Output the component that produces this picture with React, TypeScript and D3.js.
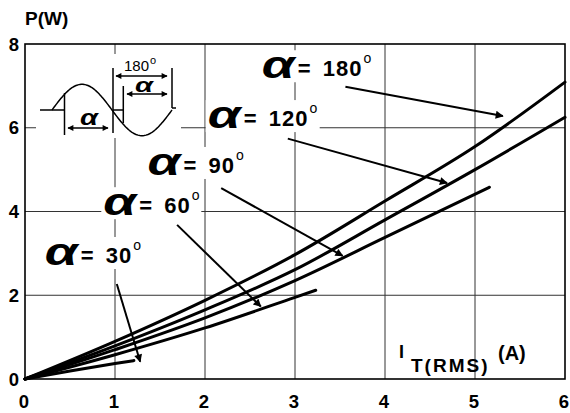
import { useEffect, useRef } from 'react';
import * as d3 from 'd3';

const W = 570, H = 413;
const margin = { top: 44, right: 5, bottom: 34, left: 25 };

const xTicks = [0, 1, 2, 3, 4, 5, 6];
const yTicks = [0, 2, 4, 6, 8];

// I_T(RMS) (A) / P (W)
const current180 = [0, 1, 2, 3, 4, 5, 6];
const power180 = [0, 0.9, 1.88, 2.97, 4.25, 5.55, 7.09];
const current120 = [0, 1, 2, 3, 4, 5, 6];
const power120 = [0, 0.79, 1.65, 2.61, 3.8, 5.0, 6.25];
const current90 = [0, 1, 2, 3, 4, 5.16];
const power90 = [0, 0.7, 1.46, 2.35, 3.38, 4.58];
const current60 = [0, 1, 2, 3, 3.23];
const power60 = [0, 0.58, 1.22, 1.95, 2.12];
const current30 = [0, 0.5, 1, 1.21];
const power30 = [0, 0.19, 0.37, 0.44];

const angles = ['180', '120', '90', '60', '30'];
// label anchor (data units) and arrow from/to (data units)
const labelI = [2.63, 2.03, 1.36, 0.87, 0.22];
const labelP = [7.23, 6.04, 4.92, 3.96, 2.77];
const arrowFromI = [3.56, 2.92, 2.18, 1.69, 1.02];
const arrowFromP = [6.98, 5.74, 4.56, 3.68, 2.27];
const arrowToI = [5.31, 4.69, 3.53, 2.62, 1.28];
const arrowToP = [6.28, 4.68, 2.94, 1.73, 0.41];

const series = [
  { I: current180, P: power180 },
  { I: current120, P: power120 },
  { I: current90, P: power90 },
  { I: current60, P: power60 },
  { I: current30, P: power30 },
];

const FONT = 'Liberation Sans, Arial, sans-serif';

function App() {
  const node = useRef<SVGSVGElement>(null);

  useEffect(() => {
    if (!node.current) return;
    const svg = d3.select(node.current);
    svg.selectAll('*').remove();

    const x = d3.scaleLinear().domain([0, 6]).range([margin.left, W - margin.right]);
    const y = d3.scaleLinear().domain([0, 8]).range([H - margin.bottom, margin.top]);

    const defs = svg.append('defs');
    defs.append('marker')
      .attr('id', 'head').attr('markerUnits', 'userSpaceOnUse')
      .attr('viewBox', '0 0 10 10').attr('refX', 9).attr('refY', 5)
      .attr('markerWidth', 9).attr('markerHeight', 8).attr('orient', 'auto-start-reverse')
      .append('path').attr('d', 'M0,0L10,5L0,10Z').attr('fill', '#000');
    defs.append('marker')
      .attr('id', 'small').attr('markerUnits', 'userSpaceOnUse')
      .attr('viewBox', '0 0 10 10').attr('refX', 9).attr('refY', 5)
      .attr('markerWidth', 7).attr('markerHeight', 6).attr('orient', 'auto-start-reverse')
      .append('path').attr('d', 'M0,0L10,5L0,10Z').attr('fill', '#000');

    // grid
    const grid = svg.append('g').attr('stroke', '#333').attr('stroke-width', 1);
    grid.selectAll('.vx').data(xTicks.slice(1, -1)).enter().append('line')
      .attr('x1', d => x(d)).attr('x2', d => x(d)).attr('y1', y(0)).attr('y2', y(8));
    grid.selectAll('.hy').data(yTicks.slice(1, -1)).enter().append('line')
      .attr('y1', d => y(d)).attr('y2', d => y(d)).attr('x1', x(0)).attr('x2', x(6));

    // white boxes behind labels
    angles.forEach((a, i) => {
      const lx = x(labelI[i]), ly = y(labelP[i]);
      const wText = 60 + a.length * 14 + 12;
      svg.append('rect').attr('x', lx - 2).attr('y', ly - 26)
        .attr('width', wText).attr('height', 32).attr('fill', '#fff');
    });

    // inset background
    svg.append('rect').attr('x', 36).attr('y', 54).attr('width', 145).attr('height', 84).attr('fill', '#fff');

    // frame
    svg.append('rect').attr('x', x(0)).attr('y', y(8))
      .attr('width', x(6) - x(0)).attr('height', y(0) - y(8))
      .attr('fill', 'none').attr('stroke', '#000').attr('stroke-width', 1.6);

    // ticks labels
    svg.append('g').selectAll('text').data(xTicks).enter().append('text')
      .attr('x', d => x(d) - 1).attr('y', 408).attr('text-anchor', 'middle')
      .attr('font-family', FONT).attr('font-weight', 'bold').attr('font-size', 18.5)
      .text(d => d);
    svg.append('g').selectAll('text').data(yTicks).enter().append('text')
      .attr('x', 19).attr('y', d => y(d) + 6.5).attr('text-anchor', 'end')
      .attr('font-family', FONT).attr('font-weight', 'bold').attr('font-size', 18.5)
      .text(d => d);

    svg.append('text').attr('x', 25).attr('y', 25)
      .attr('font-family', FONT).attr('font-weight', 'bold').attr('font-size', 19).text('P(W)');

    const xt = svg.append('text').attr('font-family', FONT).attr('font-weight', 'bold');
    xt.append('tspan').attr('x', 399).attr('y', 358).attr('font-size', 18).text('I');
    xt.append('tspan').attr('x', 411).attr('y', 372).attr('font-size', 19)
      .attr('letter-spacing', 2).text('T(RMS)');
    xt.append('tspan').attr('x', 498).attr('y', 360).attr('font-size', 20)
      .attr('letter-spacing', 0).text('(A)');

    // curves
    const line = d3.line<[number, number]>().x(d => x(d[0])).y(d => y(d[1])).curve(d3.curveMonotoneX);
    svg.append('g').selectAll('path').data(series).enter().append('path')
      .attr('d', s => line(s.I.map((v, k) => [v, s.P[k]] as [number, number])))
      .attr('fill', 'none').attr('stroke', '#000').attr('stroke-width', 3).attr('stroke-linecap', 'round');

    // arrows
    angles.forEach((_, i) => {
      svg.append('line')
        .attr('x1', x(arrowFromI[i])).attr('y1', y(arrowFromP[i]))
        .attr('x2', x(arrowToI[i])).attr('y2', y(arrowToP[i]))
        .attr('stroke', '#000').attr('stroke-width', 2).attr('marker-end', 'url(#head)');
    });

    // labels
    angles.forEach((a, i) => {
      const lx = x(labelI[i]), ly = y(labelP[i]);
      svg.append('text').attr('x', lx).attr('y', ly + 2)
        .attr('font-family', FONT).attr('font-weight', 'bold').attr('font-style', 'italic')
        .attr('font-size', 38).attr('textLength', 33).attr('lengthAdjust', 'spacingAndGlyphs')
        .text('α');
      svg.append('text').attr('x', lx + 36).attr('y', ly)
        .attr('font-family', FONT).attr('font-weight', 'bold').attr('font-size', 22).text('=');
      const dg = svg.append('text').attr('x', lx + 61).attr('y', ly)
        .attr('font-family', FONT).attr('font-weight', 'bold').attr('font-size', 22)
        .attr('letter-spacing', 1).text(a);
      const dw = (dg.node() as SVGTextElement).getComputedTextLength();
      svg.append('text').attr('x', lx + 62 + dw).attr('y', ly - 13)
        .attr('font-family', FONT).attr('font-size', 14).text('o');
    });

    // inset waveform sketch
    const ins = svg.append('g').attr('fill', 'none').attr('stroke', '#000').attr('stroke-width', 1.5);
    const sx0 = 52, half = 60, amp = 25.7, cy = 110;
    const sine = d3.range(0, 121).map(k => [sx0 + k, cy - amp * Math.sin(Math.PI * k / half)] as [number, number]);
    ins.append('path').attr('d', d3.line()(sine));
    ins.append('path').attr('d', 'M40,110H65M64.5,93V135M113,68V133M113,110H123M123.3,86V123M172,68V108M172,108H176');
    ins.append('line').attr('x1', 68).attr('y1', 128).attr('x2', 108).attr('y2', 128)
      .attr('marker-start', 'url(#small)').attr('marker-end', 'url(#small)');
    ins.append('line').attr('x1', 116).attr('y1', 76).attr('x2', 167).attr('y2', 76)
      .attr('marker-start', 'url(#small)').attr('marker-end', 'url(#small)');
    ins.append('line').attr('x1', 127).attr('y1', 94).attr('x2', 167).attr('y2', 94)
      .attr('marker-start', 'url(#small)').attr('marker-end', 'url(#small)');

    svg.append('text').attr('x', 80).attr('y', 125)
      .attr('font-family', FONT).attr('font-weight', 'bold').attr('font-style', 'italic')
      .attr('font-size', 22).attr('textLength', 18).attr('lengthAdjust', 'spacingAndGlyphs').text('α');
    svg.append('text').attr('x', 135).attr('y', 92)
      .attr('font-family', FONT).attr('font-weight', 'bold').attr('font-style', 'italic')
      .attr('font-size', 20).attr('textLength', 18).attr('lengthAdjust', 'spacingAndGlyphs').text('α');
    const deg = svg.append('text').attr('font-family', FONT).attr('font-size', 15);
    deg.append('tspan').attr('x', 124).attr('y', 70.5).text('180');
    deg.append('tspan').attr('x', 150).attr('y', 63.5).attr('font-size', 11).text('o');
  }, [node]);

  return (
    <svg ref={node} width={W} height={H}
      style={{ position: 'absolute', left: 0, top: 0, background: '#fff' }} />
  );
}

export default App;
